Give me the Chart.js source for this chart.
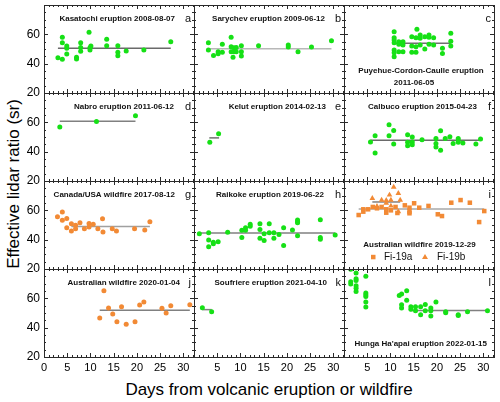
<!DOCTYPE html>
<html>
<head>
<meta charset="utf-8">
<title>Effective lidar ratio</title>
<script src="https://cdn.jsdelivr.net/npm/chart.js@4.4.1/dist/chart.umd.min.js"></script>
<style>
  html, body { margin: 0; padding: 0; background: #fff; }
  #figura { position: relative; width: 500px; height: 402px; overflow: hidden; font-family: Arial, "Liberation Sans", sans-serif; }
  #figura canvas { position: absolute; left: 0; top: 0; }
  .tituloEixo { position: absolute; white-space: nowrap; font-size: 17px; color: #000; }
</style>
</head>
<body>
<div id="figura">
  <div class="tituloEixo" style="left:14px;top:184px;transform:translate(-50%,-50%) rotate(-90deg);">Effective lidar ratio (sr)</div>
  <div class="tituloEixo" style="left:269px;top:390px;transform:translate(-50%,-50%);">Days from volcanic eruption or wildfire</div>
</div>
<script>
// ================= Dados =================
const xTicks = [0, 5, 10, 15, 20, 25, 30];
const yTicks = [20, 40, 60];

// a) Kasatochi
const kasatochiDays = [3.0, 3.95, 3.95, 3.95, 4.9, 4.9, 4.9, 7.0, 7.0, 7.9, 7.9, 7.9, 9.7, 9.9, 9.9, 10.1, 13.5, 13.5, 15.9, 15.9, 15.9, 17.7, 21.5, 27.3];
const kasatochiLR = [44.1, 58.0, 54.3, 43.0, 52.0, 50.5, 46.6, 44.3, 43.2, 54.3, 51.1, 48.4, 61.4, 50.9, 49.3, 52.0, 56.6, 52.3, 52.3, 47.7, 45.4, 48.6, 49.3, 55.0];
const kasatochiMean = [3.0, 27.3, 50.5]; // início, fim, valor

// b) Sarychev
const sarychevDays = [3.1, 3.1, 4.2, 5.2, 5.2, 6.1, 6.1, 8.0, 8.0, 8.0, 8.4, 8.6, 8.6, 9.1, 9.1, 10.2, 10.2, 10.2, 13.9, 20.3, 20.3, 22.4, 25.3, 29.6];
const sarychevLR = [54.3, 49.3, 45.5, 48.2, 46.8, 53.2, 47.7, 58.0, 51.6, 48.2, 44.3, 50.9, 48.2, 51.1, 48.2, 52.3, 48.2, 45.2, 52.3, 52.7, 51.4, 48.2, 51.4, 55.7];
const sarychevMean = [3.1, 29.6, 50.2];

// c) Puyehue-Cordon-Caulle
const puyehueDays = [10.8, 10.8, 10.8, 10.8, 10.8, 10.8, 10.8, 11.8, 11.8, 11.8, 12.7, 12.7, 12.7, 14.6, 14.6, 14.6, 15.5, 15.5, 15.5, 15.7, 16.4, 16.4, 16.4, 17.4, 17.4, 18.3, 18.3, 18.3, 19.3, 19.3, 21.2, 21.2, 23.0, 23.0, 23.0];
const puyehueLR = [61.8, 57.7, 56.1, 54.3, 49.3, 47.5, 44.8, 55.0, 53.2, 48.2, 55.0, 52.7, 48.2, 58.4, 52.0, 47.7, 57.7, 51.6, 47.7, 63.4, 59.5, 57.3, 52.7, 58.4, 50.0, 59.5, 58.0, 53.2, 57.7, 52.7, 50.5, 47.0, 60.7, 55.2, 52.0];
const puyehueMean = [10.8, 23.0, 53.9];

// d) Nabro
const nabroDays = [3.4, 11.3, 19.7];
const nabroLR = [56.8, 60.5, 64.5];
const nabroMean = [3.4, 19.7, 60.7];

// e) Kelut
const kelutDays = [3.4, 5.3];
const kelutLR = [46.4, 52.3];
const kelutMean = [3.3, 5.4, 49.4];

// f) Calbuco
const calbucoDays = [5.7, 6.7, 6.7, 9.7, 9.7, 10.7, 10.7, 13.7, 13.7, 13.7, 14.7, 14.7, 14.7, 16.8, 19.8, 19.8, 19.8, 20.8, 20.8, 21.8, 22.8, 23.5, 24.6, 24.6, 24.6, 25.6, 28.4, 29.4];
const calbucoLR = [46.6, 50.9, 39.1, 58.4, 50.9, 54.5, 45.2, 51.6, 46.4, 44.1, 50.0, 46.6, 44.8, 48.2, 48.9, 45.5, 43.2, 54.3, 40.9, 48.9, 50.2, 45.5, 48.9, 47.5, 46.4, 45.9, 45.2, 48.6];
const calbucoMean = [5.7, 29.4, 47.7];

// g) Canada/USA wildfire
const canadaDays = [2.9, 3.95, 3.95, 4.9, 4.9, 5.9, 5.9, 6.8, 6.8, 7.75, 8.7, 9.7, 9.7, 10.6, 11.6, 12.6, 12.7, 14.7, 15.6, 19.5, 21.7, 22.8];
const canadaLR = [55.7, 58.9, 53.2, 54.5, 48.2, 45.9, 50.9, 47.5, 49.8, 51.6, 47.5, 51.1, 48.6, 50.5, 47.5, 54.3, 45.2, 47.5, 45.9, 47.5, 46.6, 52.3];
const canadaMean = [5.9, 22.8, 48.9];

// h) Raikoke
const raikokeDays = [1.15, 3.16, 3.16, 3.16, 4.16, 4.16, 5.2, 7.25, 10.3, 10.3, 11.1, 11.1, 12.1, 12.1, 14.2, 14.2, 14.2, 15.1, 15.1, 16.2, 16.2, 17.2, 17.2, 18.3, 19.3, 19.3, 21.2, 22.3, 22.3, 22.3, 22.3, 27.2, 27.2, 27.2, 30.4];
const raikokeLR = [44.1, 44.8, 39.8, 35.2, 38.2, 37.3, 38.6, 45.0, 46.4, 41.4, 48.2, 46.4, 50.5, 49.1, 50.9, 47.0, 40.9, 44.1, 39.5, 50.9, 44.8, 44.8, 40.9, 43.6, 48.2, 36.1, 46.6, 53.4, 52.3, 51.6, 42.7, 53.6, 41.4, 40.2, 43.2];
const raikokeMean = [1.15, 30.4, 44.5];

// i) Australian wildfire 2019-12-29 (Fi-19a e Fi-19b)
const fi19aDays = [3.16, 4.16, 4.16, 5.2, 6.2, 7.1, 8.1, 9.1, 9.1, 10.1, 11.1, 11.5, 13.1, 14.1, 14.1, 14.1, 15.1, 16.2, 18.2, 20.2, 21.1, 23.1, 25.1, 27.1, 29.1, 30.2];
const fi19aLR = [56.8, 59.1, 60.7, 60.7, 62.3, 61.4, 62.3, 58.4, 60.7, 60.0, 62.3, 58.2, 63.4, 61.8, 59.1, 58.0, 64.8, 61.8, 63.0, 57.3, 56.1, 65.2, 67.0, 65.2, 52.0, 59.5];
const fi19aMean = [3.16, 30.2, 60.9];
const fi19bDays = [6.1, 7.1, 8.1, 9.1, 9.1, 9.8, 10.1, 10.1, 10.7, 11.7, 11.7, 12.1];
const fi19bLR = [68.2, 62.7, 67.0, 66.8, 65.0, 70.5, 67.0, 63.0, 75.9, 71.6, 59.1, 67.0];
const fi19bMean = [6.1, 12.1, 65.7];

// j) Australian wildfire 2020-01-04
const australia20Days = [12.0, 12.9, 13.9, 14.8, 15.7, 16.7, 17.7, 19.6, 20.6, 21.5, 25.4, 26.3, 27.3, 31.4];
const australia20LR = [46.6, 65.2, 53.4, 49.3, 44.1, 54.3, 42.3, 44.1, 55.5, 57.5, 53.2, 50.0, 55.0, 55.7];
const australia20Mean = [12.0, 31.4, 51.8];

// k) Soufriere
const soufriereDays = [1.8, 3.8];
const soufriereLR = [53.6, 50.9];
const soufriereMean = [1.8, 3.8, 52.3];

// l) Hunga Ha'apai
const hungaDays = [1.45, 1.45, 1.45, 2.6, 2.6, 2.6, 2.6, 2.6, 2.6, 4.7, 4.7, 4.7, 4.7, 4.7, 4.7, 11.9, 12.4, 12.4, 12.4, 13.5, 13.5, 14.4, 14.4, 15.4, 15.4, 16.5, 16.5, 17.5, 17.5, 18.7, 18.7, 18.7, 19.8, 21.9, 21.9, 24.6, 24.6, 26.6, 30.9];
const hungaLR = [79.8, 71.3, 69.7, 77.2, 73.3, 72.1, 68.5, 66.9, 64.6, 75.0, 63.6, 62.5, 61.3, 57.5, 54.1, 61.9, 63.0, 55.7, 53.4, 65.1, 58.7, 54.3, 52.5, 54.3, 51.6, 54.3, 48.8, 55.8, 51.6, 53.4, 51.6, 47.9, 57.5, 50.9, 50.2, 48.8, 48.3, 50.9, 51.6];
const hungaMean = [14.2, 30.9, 51.7];

// ================= Estilos =================
const VERDE = '#16e016';
const LARANJA = '#f28a35';
const FONTE = 'Arial, "Liberation Sans", sans-serif';
const PAINEL_L = 150, PAINEL_A = 88;   // tamanho de cada painel (px)
const ESQ = 44, TOPO = 5;              // canto do painel a

const paineis = [
  { row: 0, col: 0, letter: 'a', titles: [{ text: 'Kasatochi eruption 2008-08-07', x: 131, y: 16, align: 'right' }],
    series: [{ x: kasatochiDays, y: kasatochiLR, color: VERDE }], means: [{ m: kasatochiMean, color: '#6a6a6a' }] },
  { row: 0, col: 1, letter: 'b', titles: [{ text: 'Sarychev eruption 2009-06-12', x: 131, y: 16, align: 'right' }],
    series: [{ x: sarychevDays, y: sarychevLR, color: VERDE }], means: [{ m: sarychevMean, color: '#b8b8b8' }] },
  { row: 0, col: 2, letter: 'c', titles: [{ text: 'Puyehue-Cordon-Caulle eruption', x: 77, y: 68, align: 'center' },
                                          { text: '2011-06-05', x: 70, y: 80, align: 'center' }],
    series: [{ x: puyehueDays, y: puyehueLR, color: VERDE }], means: [{ m: puyehueMean, color: '#707070' }] },
  { row: 1, col: 0, letter: 'd', titles: [{ text: 'Nabro eruption 2011-06-12', x: 130, y: 16, align: 'right' }],
    series: [{ x: nabroDays, y: nabroLR, color: VERDE }], means: [{ m: nabroMean, color: '#808080' }] },
  { row: 1, col: 1, letter: 'e', titles: [{ text: 'Kelut eruption 2014-02-13', x: 132, y: 16, align: 'right' }],
    series: [{ x: kelutDays, y: kelutLR, color: VERDE }], means: [{ m: kelutMean, color: '#707070' }] },
  { row: 1, col: 2, letter: 'f', titles: [{ text: 'Calbuco eruption 2015-04-23', x: 133, y: 16, align: 'right' }],
    series: [{ x: calbucoDays, y: calbucoLR, color: VERDE }], means: [{ m: calbucoMean, color: '#6a6a6a' }] },
  { row: 2, col: 0, letter: 'g', titles: [{ text: 'Canada/USA wildfire 2017-08-12', x: 131, y: 16, align: 'right' }],
    series: [{ x: canadaDays, y: canadaLR, color: LARANJA }], means: [{ m: canadaMean, color: '#a0a0a0' }] },
  { row: 2, col: 1, letter: 'h', titles: [{ text: 'Raikoke eruption 2019-06-22', x: 130, y: 16, align: 'right' }],
    series: [{ x: raikokeDays, y: raikokeLR, color: VERDE }], means: [{ m: raikokeMean, color: '#808080' }] },
  { row: 2, col: 2, letter: 'i', titles: [{ text: 'Australian wildfire 2019-12-29', x: 75.5, y: 66, align: 'center' }], legenda: true,
    series: [{ x: fi19aDays, y: fi19aLR, color: LARANJA, style: 'rect', radius: 3.2 },
             { x: fi19bDays, y: fi19bLR, color: LARANJA, style: 'triangle', radius: 3.3 }],
    means: [{ m: fi19aMean, color: '#a8a8a8' }, { m: fi19bMean, color: '#808080' }] },
  { row: 3, col: 0, letter: 'j', titles: [{ text: 'Australian wildfire 2020-01-04', x: 136, y: 16, align: 'right' }],
    series: [{ x: australia20Days, y: australia20LR, color: LARANJA }], means: [{ m: australia20Mean, color: '#808080' }] },
  { row: 3, col: 1, letter: 'k', titles: [{ text: 'Soufriere eruption 2021-04-10', x: 133, y: 16, align: 'right' }],
    series: [{ x: soufriereDays, y: soufriereLR, color: VERDE }], means: [{ m: soufriereMean, color: '#808080' }] },
  { row: 3, col: 2, letter: 'l', titles: [{ text: "Hunga Ha'apai eruption 2022-01-15", x: 143, y: 76.5, align: 'right' }],
    series: [{ x: hungaDays, y: hungaLR, color: VERDE }], means: [{ m: hungaMean, color: '#808080' }] }
];

// fixa o tamanho do eixo para que a área do painel caia no lugar certo
function fixarEixo(tamanho) {
  return s => {
    if (s.isHorizontal()) s.height = tamanho; else s.width = tamanho;
    s.paddingLeft = s.paddingRight = s.paddingTop = s.paddingBottom = 0;
  };
}

// moldura, ticks para dentro, títulos e letra do painel
function decoracao(p) {
  return {
    id: 'decoracao',
    afterDraw(chart) {
      const { ctx, chartArea: a, scales: { x, y } } = chart;
      ctx.save();
      ctx.strokeStyle = '#2a2a2a';
      ctx.lineWidth = 1;
      ctx.beginPath();
      for (let d = 0; d <= 32; d++) {
        const px = Math.round(x.getPixelForValue(d)) + 0.5;
        const len = d % 5 === 0 ? 4 : 2;
        ctx.moveTo(px, a.bottom); ctx.lineTo(px, a.bottom - len);
        ctx.moveTo(px, a.top); ctx.lineTo(px, a.top + len);
      }
      for (let v = 20; v <= 80; v += 5) {
        const py = Math.round(y.getPixelForValue(v)) + 0.5;
        const len = v % 20 === 0 ? 4 : 2;
        ctx.moveTo(a.left, py); ctx.lineTo(a.left + len, py);
        ctx.moveTo(a.right, py); ctx.lineTo(a.right - len, py);
      }
      ctx.stroke();
      ctx.strokeRect(Math.round(a.left) + 0.5, Math.round(a.top) + 0.5, PAINEL_L, PAINEL_A);

      ctx.fillStyle = '#111';
      ctx.textBaseline = 'alphabetic';
      ctx.font = 'bold 8px ' + FONTE;
      p.titles.forEach(t => {
        ctx.textAlign = t.align;
        ctx.fillText(t.text, a.left + t.x, a.top + t.y);
      });
      ctx.font = '11px ' + FONTE;
      ctx.textAlign = 'right';
      ctx.fillText(p.letter, a.right - 3, a.top + 17);

      if (p.legenda) {
        const ly = a.top + 76;
        ctx.fillStyle = LARANJA;
        ctx.fillRect(a.left + 27, ly - 2.2, 4.5, 4.5);
        ctx.beginPath();
        ctx.moveTo(a.left + 81, ly - 3);
        ctx.lineTo(a.left + 84, ly + 2);
        ctx.lineTo(a.left + 78, ly + 2);
        ctx.closePath();
        ctx.fill();
        ctx.fillStyle = '#111';
        ctx.font = '10px ' + FONTE;
        ctx.textAlign = 'left';
        ctx.textBaseline = 'middle';
        ctx.fillText('Fi-19a', a.left + 40, ly);
        ctx.fillText('Fi-19b', a.left + 93, ly);
      }
      ctx.restore();
    }
  };
}

// ================= Um gráfico por painel =================
const figura = document.getElementById('figura');

paineis.forEach(p => {
  const left = ESQ + p.col * PAINEL_L;
  const top = TOPO + p.row * PAINEL_A;
  const bottom = 402 - top - PAINEL_A;
  const comEixoY = p.col === 0;
  const comEixoX = p.row === 3;

  const canvas = document.createElement('canvas');
  canvas.width = 500;
  canvas.height = 402;
  figura.appendChild(canvas);

  const datasets = [];
  p.series.forEach(s => datasets.push({
    data: s.x.map((d, i) => ({ x: d, y: s.y[i] })),
    pointStyle: s.style || 'circle',
    pointRadius: s.radius || 2.5,
    backgroundColor: s.color,
    borderWidth: 0,
    clip: 0
  }));
  p.means.forEach(m => datasets.push({
    data: [{ x: m.m[0], y: m.m[2] }, { x: m.m[1], y: m.m[2] }],
    showLine: true,
    borderColor: m.color,
    borderWidth: 1.5,
    pointRadius: 0,
    clip: 0
  }));

  new Chart(canvas, {
    type: 'scatter',
    data: { datasets },
    plugins: [decoracao(p)],
    options: {
      responsive: false,
      animation: false,
      events: [],
      layout: { padding: {
        left: comEixoY ? 0 : left,
        top: top,
        right: 500 - left - PAINEL_L,
        bottom: comEixoX ? 0 : bottom
      } },
      plugins: { legend: { display: false }, tooltip: { enabled: false } },
      scales: {
        x: {
          type: 'linear', min: 0, max: 32.3,
          display: comEixoX,
          grid: { display: false, drawTicks: false, tickLength: 0 },
          border: { display: false },
          ticks: { color: '#000', font: { size: 11, family: FONTE }, padding: 4, maxRotation: 0, autoSkip: false },
          afterBuildTicks: s => { s.ticks = xTicks.filter(v => p.col === 0 || v > 0).map(v => ({ value: v })); },
          afterFit: fixarEixo(comEixoX ? bottom : 0)
        },
        y: {
          type: 'linear', min: 20, max: 80,
          display: comEixoY,
          grid: { display: false, drawTicks: false, tickLength: 0 },
          border: { display: false },
          ticks: { color: '#000', font: { size: 12, family: FONTE }, padding: 4, autoSkip: false },
          afterBuildTicks: s => { s.ticks = yTicks.map(v => ({ value: v })); },
          afterFit: fixarEixo(comEixoY ? left : 0)
        }
      }
    }
  });
});
</script>
</body>
</html>
